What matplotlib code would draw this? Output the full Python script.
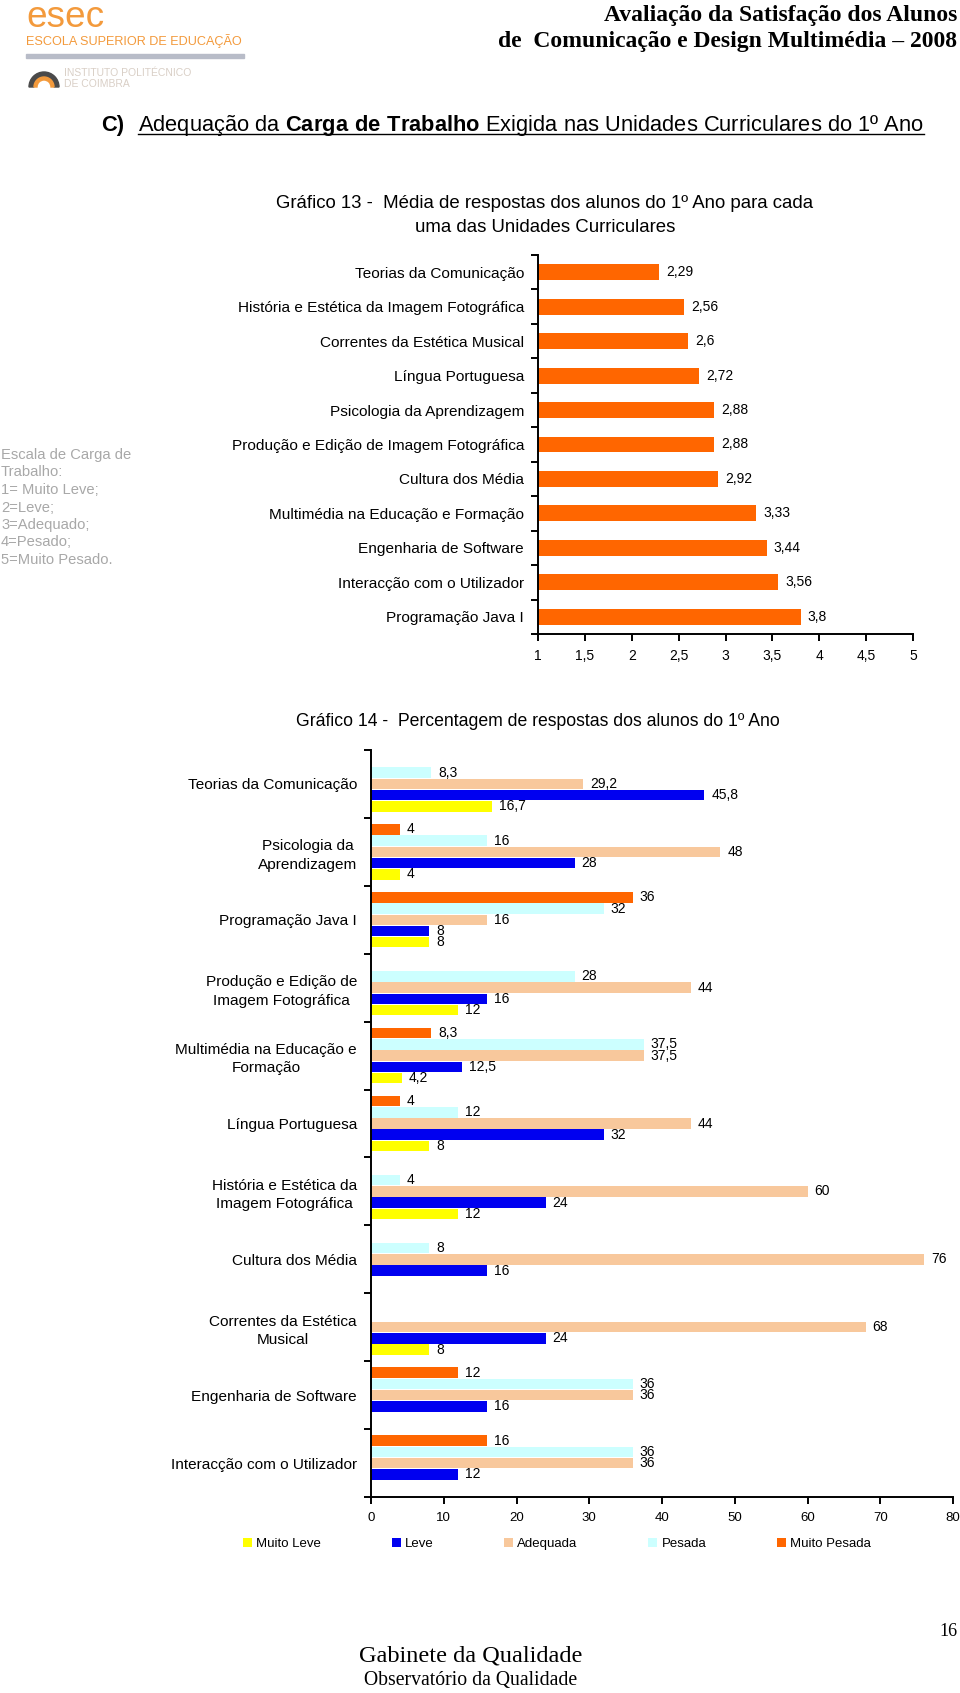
import numpy as np
import matplotlib
matplotlib.use("Agg")
from matplotlib import pyplot as plt
from matplotlib.patches import Rectangle, Wedge
from matplotlib.transforms import IdentityTransform

plt.rcParams["font.family"] = ["Liberation Sans", "DejaVu Sans"]
plt.rcParams["mathtext.fontset"] = "custom"
plt.rcParams["mathtext.rm"] = "Liberation Sans"
plt.rcParams["mathtext.bf"] = "Liberation Sans:bold"

# Gráfico 13 - média por unidade curricular
uc13 = ["Teorias da Comunicação", "História e Estética da Imagem Fotográfica",
        "Correntes da Estética Musical", "Língua Portuguesa",
        "Psicologia da Aprendizagem", "Produção e Edição de Imagem Fotográfica",
        "Cultura dos Média", "Multimédia na Educação e Formação",
        "Engenharia de Software", "Interacção com o Utilizador",
        "Programação Java I"]
media13 = [2.29, 2.56, 2.6, 2.72, 2.88, 2.88, 2.92, 3.33, 3.44, 3.56, 3.8]
ticks13 = [1, 1.5, 2, 2.5, 3, 3.5, 4, 4.5, 5]

# Gráfico 14 - percentagem de respostas
uc14 = ["Teorias da Comunicação", "Psicologia da\nAprendizagem",
        "Programação Java I", "Produção e Edição de\nImagem Fotográfica",
        "Multimédia na Educação e\nFormação", "Língua Portuguesa",
        "História e Estética da\nImagem Fotográfica", "Cultura dos Média",
        "Correntes da Estética\nMusical", "Engenharia de Software",
        "Interacção com o Utilizador"]
muito_leve = [16.7, 4, 8, 12, 4.2, 8, 12, 0, 8, 0, 0]
leve = [45.8, 28, 8, 16, 12.5, 32, 24, 16, 24, 16, 12]
adequada = [29.2, 48, 16, 44, 37.5, 44, 60, 76, 68, 36, 36]
pesada = [8.3, 16, 32, 28, 37.5, 12, 4, 8, 0, 36, 36]
muito_pesada = [0, 4, 36, 0, 8.3, 4, 0, 0, 0, 12, 16]
series14 = ["Muito Leve", "Leve", "Adequada", "Pesada", "Muito Pesada"]
cores14 = ["#FFFF00", "#0000F0", "#F8C89C", "#CCFFFF", "#FF6600"]

escala = ["Escala de Carga de", "Trabalho:", "1= Muito Leve;", "2=Leve;",
          "3=Adequado;", "4=Pesado;", "5=Muito Pesado."]

W, H = 960, 1693
fig = plt.figure(figsize=(W / 100, H / 100), dpi=100)
renderer = fig.canvas.get_renderer()


def fx(x):
    return x / W


def fy(y):
    return 1 - y / H


def fit(x, y, s, width, ha="left", va="center", **kw):
    # text scaled so it takes the given width in pixels
    t = fig.text(fx(x), fy(y), s, fontsize=10, ha=ha, va=va, **kw)
    w = t.get_window_extent(renderer).width
    t.set_fontsize(10 * width / w)
    return t


def virgula(v):
    return f"{v:g}".replace(".", ",")


# cabeçalho
fit(26, 0, "esec", 78, va="top", color="#F39A3C")
fit(26, 41, "ESCOLA SUPERIOR DE EDUCAÇÃO", 217, color="#F39A3C")
fig.add_artist(Rectangle((fx(26), fy(58)), 218 / W, 4 / H, color="#B8BCC8",
                         transform=fig.transFigure))
fig.add_artist(Wedge((44, H - 87), 15, 0, 180, width=5, color="#4A4A4A",
                     transform=IdentityTransform()))
fig.add_artist(Wedge((44, H - 87), 10, 0, 180, width=3, color="#F39A3C",
                     transform=IdentityTransform()))
ipc = fit(64, 73, "INSTITUTO POLITÉCNICO", 128, color="#D9CFC6")
fig.text(fx(64), fy(84), "DE COIMBRA", fontsize=ipc.get_fontsize(), color="#D9CFC6",
         va="center")

h1 = fit(957, 15, "Avaliação da Satisfação dos Alunos", 354, ha="right",
         family="Liberation Serif", weight="bold")
fig.text(fx(957), fy(42), "de  Comunicação e Design Multimédia – 2008",
         fontsize=h1.get_fontsize(), ha="right", va="center",
         family="Liberation Serif", weight="bold")

resto = fit(138, 125, r"Adequação da $\mathbf{Carga\ de\ Trabalho}$ Exigida nas Unidades Curriculares do 1º Ano", 788)
fig.text(fx(101), fy(125), "C)", fontsize=resto.get_fontsize(), weight="bold", va="center")
bb = resto.get_window_extent(renderer)
fig.add_artist(plt.Line2D([bb.x0 / W, bb.x1 / W], [fy(134), fy(134)], color="black",
                          lw=1, transform=fig.transFigure))

t13 = fit(545, 203, "Gráfico 13 -  Média de respostas dos alunos do 1º Ano para cada", 541, ha="center")
fig.text(fx(545), fy(228), "uma das Unidades Curriculares", fontsize=t13.get_fontsize(),
         ha="center", va="center")

for k, linha in enumerate(escala):
    fig.text(fx(1), fy(455 + 17.5 * k), linha, fontsize=10.6, color="#A8A8A8", va="center")

# Gráfico 13
ax1 = fig.add_axes([fx(538), fy(634), 375 / W, 379 / H])
y13 = np.arange(len(uc13))
ax1.barh(y13, media13, height=0.46, color="#FF6600")
for i, v in enumerate(media13):
    ax1.annotate(virgula(v), (v, i), xytext=(5, 0), textcoords="offset points",
                 va="center", fontsize=10)
ax1.set_xlim(1, 5)
ax1.set_ylim(len(uc13) - 0.5, -0.5)
ax1.set_xticks(ticks13)
ax1.set_xticklabels([virgula(t) for t in ticks13], fontsize=10)
ax1.set_yticks(y13)
ax1.set_yticklabels(uc13, fontsize=11.1)
ax1.set_yticks(np.arange(-0.5, len(uc13)), minor=True)

# Gráfico 14
fit(538, 721, "Gráfico 14 -  Percentagem de respostas dos alunos do 1º Ano", 485, ha="center")
ax2 = fig.add_axes([fx(371), fy(1497), 582 / W, 747 / H])
y14 = np.arange(len(uc14))
valores = [muito_leve, leve, adequada, pesada, muito_pesada]
barras = []
for j, (vals, cor) in enumerate(zip(valores, cores14)):
    pos = y14 + (2 - j) * 0.165
    barras.append(ax2.barh(pos, vals, height=0.155, color=cor))
    for p, v in zip(pos, vals):
        if v > 0:
            ax2.annotate(virgula(v), (v, p), xytext=(5, 0), textcoords="offset points",
                         va="center", fontsize=10)
ax2.set_xlim(0, 80)
ax2.set_ylim(len(uc14) - 0.5, -0.5)
ax2.set_xticks(range(0, 81, 10))
ax2.tick_params(axis="x", labelsize=9.5)
ax2.set_yticks(y14)
ax2.set_yticklabels(uc14, fontsize=11.1)
for lbl in ax2.get_yticklabels():
    lbl.set_multialignment("center")
    lbl.set_linespacing(1.4)
ax2.set_yticks(np.arange(-0.5, len(uc14)), minor=True)

for ax in (ax1, ax2):
    for lado in ("top", "right"):
        ax.spines[lado].set_visible(False)
    for lado in ("left", "bottom"):
        ax.spines[lado].set_linewidth(1.4)
    ax.tick_params(axis="y", which="major", length=0, pad=10)
    ax.tick_params(axis="y", which="minor", length=5, width=1.4, direction="out")
    ax.tick_params(axis="x", length=5, width=1.4, direction="out", pad=6)

ax2.legend(barras, series14, loc="center left", ncol=5, frameon=False,
           bbox_to_anchor=(fx(243), fy(1544)), bbox_transform=fig.transFigure,
           borderaxespad=0, borderpad=0, fontsize=9.5, handlelength=0.7,
           handleheight=0.7, handletextpad=0.3, columnspacing=5.35)

# rodapé
fig.text(fx(948), fy(1632), "16", fontsize=13, ha="center", va="center",
         family="Liberation Serif")
fit(471, 1656, "Gabinete da Qualidade", 223, ha="center", family="Liberation Serif")
fit(471, 1681, "Observatório da Qualidade", 213, ha="center", family="Liberation Serif")

fig.savefig("out.png", dpi=100)
